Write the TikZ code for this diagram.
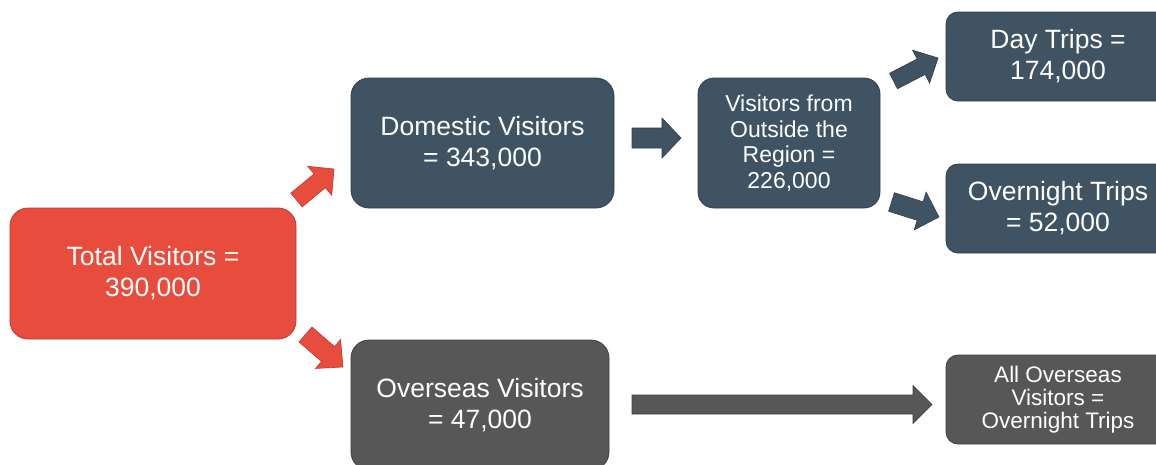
\documentclass[tikz,border=0pt]{standalone}
\usepackage{fontspec}
\setmainfont{Liberation Sans}
\usetikzlibrary{calc}

\definecolor{vred}{HTML}{E84C3D}
\definecolor{vredline}{HTML}{B9392C}
\definecolor{slate}{HTML}{3F5363}
\definecolor{slateline}{HTML}{2E3D49}
\definecolor{charcoal}{HTML}{575757}
\definecolor{charcoalline}{HTML}{3E3E3E}

\tikzset{
  box/.style={rounded corners=18pt, text=white, align=center, inner sep=0pt,
              line width=0.8pt},
  redbox/.style={box, fill=vred, draw=vredline},
  slatebox/.style={box, fill=slate, draw=slateline},
  greybox/.style={box, fill=charcoal, draw=charcoalline},
  bigtext/.style={font=\fontsize{26.5}{31}\selectfont},
  smalltext/.style={font=\fontsize{23}{25.5}\selectfont},
  tinytext/.style={font=\fontsize{22.5}{23}\selectfont},
  redarrow/.style={fill=vred, draw=vredline, line width=0.6pt},
  slatearrow/.style={fill=slate, draw=slateline, line width=0.6pt},
  greyarrow/.style={fill=charcoal, draw=charcoalline, line width=0.6pt},
}

% block arrow: tail, tip, shaft half-width, head half-width, head length, style
\newcommand\blockarrow[6]{%
  \coordinate (hb) at ($(#2)!#5!(#1)$);
  \draw[#6] ($(#1)!#3!90:(#2)$) -- ($(hb)!#3!90:(#2)$) -- ($(hb)!#4!90:(#2)$)
    -- (#2) -- ($(hb)!#4!-90:(#2)$) -- ($(hb)!#3!-90:(#2)$)
    -- ($(#1)!#3!-90:(#2)$) -- cycle;}

\begin{document}
\begin{tikzpicture}[x=1pt, y=-1pt]
  \useasboundingbox (0,0) rectangle (1156,464);

  % boxes
  \node[redbox, bigtext, minimum width=286pt, minimum height=131pt]
    (total) at (153,273.5) {Total Visitors =\\390,000};
  \node[slatebox, bigtext, minimum width=263pt, minimum height=130pt]
    (dom) at (482.5,143) {Domestic Visitors\\= 343,000};
  \node[greybox, bigtext, minimum width=258pt, minimum height=130pt]
    (over) at (480,405) {Overseas Visitors\\= 47,000};
  \node[slatebox, smalltext, rounded corners=16pt, minimum width=182pt, minimum height=130pt]
    (outside) at (789,143) {Visitors from\\Outside the\\Region =\\226,000};
  \node[slatebox, bigtext, rounded corners=12pt, minimum width=224pt, minimum height=89pt]
    (day) at (1058,56.5) {Day Trips =\\174,000};
  \node[slatebox, bigtext, rounded corners=12pt, minimum width=224pt, minimum height=89pt]
    (night) at (1058,208.5) {Overnight Trips\\= 52,000};
  \node[greybox, tinytext, rounded corners=12pt, minimum width=224pt, minimum height=89pt]
    (allover) at (1058,399.5) {All Overseas\\Visitors =\\Overnight Trips};

  % arrow end points
  \coordinate (a1t) at (296.5,200);   \coordinate (a1h) at (334,169);
  \coordinate (a2t) at (305.5,334.5); \coordinate (a2h) at (343,367);
  \coordinate (a3t) at (632,138);     \coordinate (a3h) at (681,138);
  \coordinate (a4t) at (893.5,81);    \coordinate (a4h) at (938,58);
  \coordinate (a5t) at (891.5,202);   \coordinate (a5h) at (939,217);
  \coordinate (a6t) at (632,404.5);   \coordinate (a6h) at (932,404.5);

  % block arrows
  \blockarrow{a1t}{a1h}{8.9pt}{18.8pt}{18.5pt}{redarrow}
  \blockarrow{a2t}{a2h}{9.9pt}{19.1pt}{19.8pt}{redarrow}
  \blockarrow{a3t}{a3h}{10pt}{20pt}{19pt}{slatearrow}
  \blockarrow{a4t}{a4h}{8.7pt}{18.6pt}{19pt}{slatearrow}
  \blockarrow{a5t}{a5h}{9.7pt}{19.8pt}{19.8pt}{slatearrow}
  \blockarrow{a6t}{a6h}{9.5pt}{19pt}{19pt}{greyarrow}
\end{tikzpicture}
\end{document}
